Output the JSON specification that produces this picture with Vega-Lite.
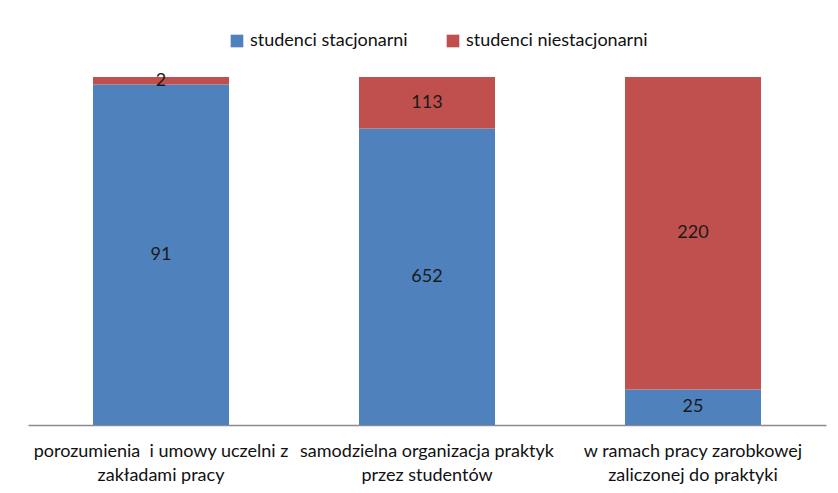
{
  "$schema": "https://vega.github.io/schema/vega-lite/v6.json",
  "autosize": {"type": "none"},
  "width": 798,
  "height": 348,
  "padding": {"left": 28, "top": 77, "right": 12, "bottom": 68},
  "background": "white",
  "config": {
    "view": {"stroke": null},
    "font": "Lato"
  },
  "data": {
    "values": [
      {"category": "porozumienia \u00a0i umowy uczelni z\nzakładami pracy", "series": "studenci stacjonarni", "value": 91},
      {"category": "porozumienia \u00a0i umowy uczelni z\nzakładami pracy", "series": "studenci niestacjonarni", "value": 2},
      {"category": "samodzielna organizacja praktyk\nprzez studentów", "series": "studenci stacjonarni", "value": 652},
      {"category": "samodzielna organizacja praktyk\nprzez studentów", "series": "studenci niestacjonarni", "value": 113},
      {"category": "w ramach pracy zarobkowej\nzaliczonej do praktyki", "series": "studenci stacjonarni", "value": 25},
      {"category": "w ramach pracy zarobkowej\nzaliczonej do praktyki", "series": "studenci niestacjonarni", "value": 220}
    ]
  },
  "transform": [
    {"stack": "value", "groupby": ["category"], "offset": "normalize", "sort": [{"field": "series", "order": "descending"}], "as": ["y0", "y1"]},
    {"calculate": "(datum.y0 + datum.y1) / 2", "as": "ymid"}
  ],
  "encoding": {
    "x": {
      "field": "category",
      "type": "nominal",
      "sort": null,
      "scale": {"paddingInner": 0.4887, "paddingOuter": 0.2444},
      "axis": {
        "title": null,
        "labelAngle": 0,
        "labelExpr": "split(datum.label, '\\n')",
        "labelFont": "Lato",
        "labelFontSize": 18,
        "labelColor": "#111111",
        "labelLineHeight": 24,
        "labelPadding": 17,
        "labelBaseline": "top",
        "ticks": false,
        "domainColor": "#8c8c8c",
        "domainWidth": 1.5,
        "grid": false,
        "labelLimit": 400
      }
    }
  },
  "layer": [
    {
      "mark": {"type": "bar"},
      "encoding": {
        "y": {"field": "y0", "type": "quantitative", "scale": {"domain": [0, 1]}, "axis": null},
        "y2": {"field": "y1"},
        "color": {
          "field": "series",
          "type": "nominal",
          "scale": {"domain": ["studenci stacjonarni", "studenci niestacjonarni"], "range": ["#4F81BD", "#C0504D"]},
          "legend": {
            "title": null,
            "orient": "none",
            "legendX": 200,
            "legendY": -45,
            "direction": "horizontal",
            "symbolType": "square",
            "symbolSize": 160,
            "symbolStrokeWidth": 0,
            "labelFont": "Lato",
            "labelFontSize": 18,
            "labelColor": "#111111",
            "labelOffset": 4,
            "labelLimit": 400,
            "columnPadding": 36
          }
        }
      }
    },
    {
      "mark": {"type": "text", "font": "Lato", "fontSize": 18, "color": "#1a1a1a", "baseline": "middle"},
      "encoding": {
        "y": {"field": "ymid", "type": "quantitative"},
        "text": {"field": "value", "type": "quantitative"}
      }
    }
  ]
}
